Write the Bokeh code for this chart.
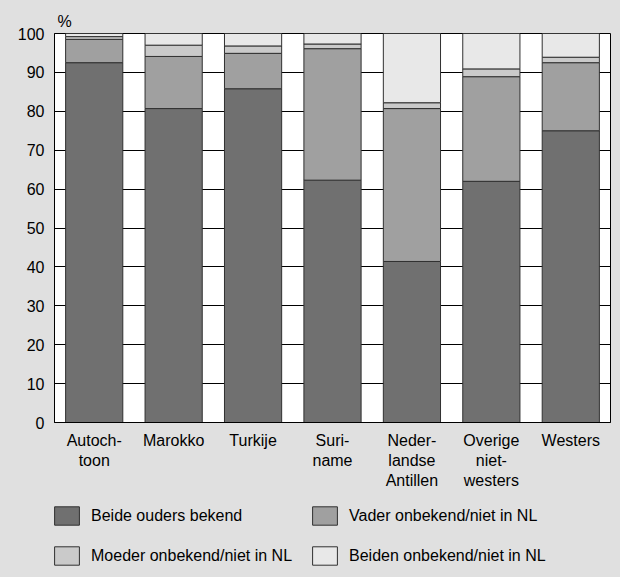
from bokeh.plotting import figure
from bokeh.layouts import column
from bokeh.models import Range1d, Legend, LegendItem, FixedTicker, Title
from bokeh.embed import file_html
from bokeh.resources import INLINE

categories = ["Autoch-\ntoon", "Marokko", "Turkije", "Suri-\nname",
              "Neder-\nlandse\nAntillen", "Overige\nniet-\nwesters", "Westers"]
beide = [92.5, 80.7, 85.8, 62.3, 41.4, 62.0, 75.0]
vader = [6.0, 13.4, 9.1, 33.8, 39.3, 26.9, 17.5]
moeder = [0.7, 2.9, 1.9, 1.2, 1.5, 2.0, 1.4]
beiden = [0.8, 3.0, 3.2, 2.7, 17.8, 9.1, 6.1]
series_names = ["Beide ouders bekend", "Vader onbekend/niet in NL",
                "Moeder onbekend/niet in NL", "Beiden onbekend/niet in NL"]
y_ticks = [0, 10, 20, 30, 40, 50, 60, 70, 80, 90, 100]

colors = ["#707070", "#a0a0a0", "#cacaca", "#e8e8e8"]
FONT = "Liberation Sans"
BG = "#e0e0e0"
stack_keys = ["s0", "s1", "s2", "s3"]

data = {"cat": categories, "s0": beide, "s1": vader, "s2": moeder, "s3": beiden}

# main chart
p = figure(x_range=categories, y_range=Range1d(0, 100), width=620, height=492,
           output_backend="svg", toolbar_location=None,
           min_border_left=54, min_border_right=10, min_border_top=33, min_border_bottom=69)
p.background_fill_color = "white"
p.border_fill_color = BG
p.outline_line_color = "black"
p.outline_line_width = 1

p.vbar_stack(stack_keys, x="cat", width=0.72, source=data,
             fill_color=colors, line_color="#303030", line_width=1)

p.xgrid.grid_line_color = None
p.ygrid.grid_line_color = "black"
p.ygrid.grid_line_width = 1
p.ygrid.ticker = FixedTicker(ticks=y_ticks)
p.yaxis.ticker = FixedTicker(ticks=y_ticks)

for ax in (p.xaxis, p.yaxis):
    ax.axis_line_color = "black"
    ax.major_tick_line_color = None
    ax.minor_tick_line_color = None
    ax.major_tick_out = 0
    ax.major_tick_in = 0
    ax.major_label_text_font = FONT
    ax.major_label_text_font_size = "16px"
    ax.major_label_text_color = "black"
p.yaxis.major_label_standoff = 10
p.xaxis.major_label_standoff = 9

p.add_layout(Title(text="%", align="left", offset=3, text_font=FONT,
                   text_font_size="16px", text_font_style="normal",
                   text_color="black", standoff=8), "above")

# legend strip
lg = figure(x_range=categories, y_range=Range1d(0, 100), width=620, height=85,
            output_backend="svg", toolbar_location=None,
            x_axis_location=None, y_axis_location=None,
            min_border_left=0, min_border_right=0, min_border_top=0, min_border_bottom=0)
lg.background_fill_alpha = 0
lg.border_fill_alpha = 0
lg.outline_line_color = None
lg.grid.grid_line_color = None
leg_renderers = lg.vbar_stack(stack_keys, x="cat", width=0.72, source=data,
                              fill_color=colors, line_color="#303030", line_width=1,
                              visible=False)

items = [LegendItem(label=n, renderers=[r]) for n, r in zip(series_names, leg_renderers)]
legend = Legend(items=items, location=(-3, 10), ncols=2, orientation="horizontal",
                glyph_width=31, glyph_height=23, label_height=23, spacing=17,
                label_standoff=9, padding=0, margin=0,
                label_text_font=FONT, label_text_font_size="16px", label_text_color="black",
                border_line_color=None, background_fill_alpha=0)
lg.add_layout(legend)

layout = column(p, lg, spacing=0, styles={"background-color": BG})
open("out.html", "w").write(file_html(layout, INLINE))
